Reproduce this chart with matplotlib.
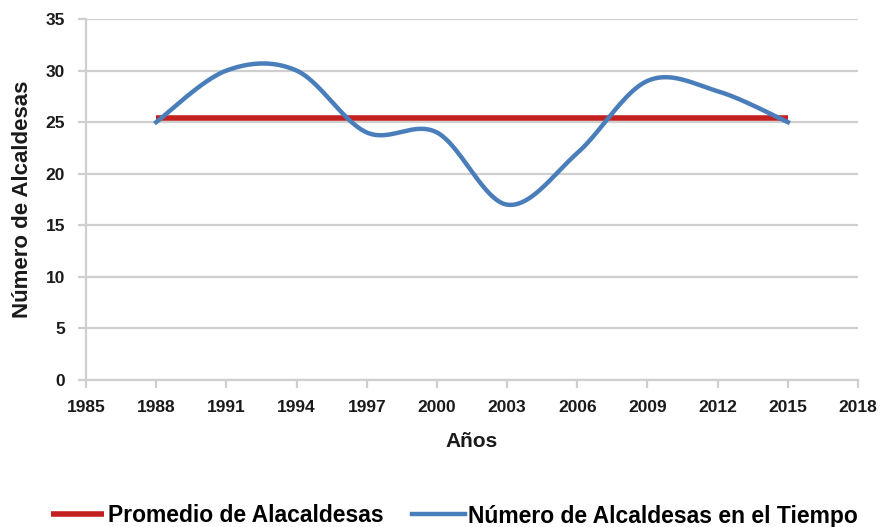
import numpy as np
import matplotlib
matplotlib.use("Agg")
import matplotlib.pyplot as plt

years = [1988, 1991, 1994, 1997, 2000, 2003, 2006, 2009, 2012, 2015]
alcaldesas = [25, 30, 30, 24, 24, 17, 22, 29, 28, 25]
promedio = [25.4] * len(years)
x_ticks = [1985, 1988, 1991, 1994, 1997, 2000, 2003, 2006, 2009, 2012, 2015, 2018]
y_ticks = [0, 5, 10, 15, 20, 25, 30, 35]

plt.rcParams['font.family'] = ['Liberation Sans', 'DejaVu Sans']


def smooth(xs, ys, n=40):
    # Excel-like smoothed line: cubic Bezier with Catmull-Rom control points
    xs = np.asarray(xs, float)
    ys = np.asarray(ys, float)
    P = np.column_stack([xs, ys])
    out = []
    for i in range(len(P) - 1):
        p0 = P[i - 1] if i > 0 else P[i]
        p1, p2 = P[i], P[i + 1]
        p3 = P[i + 2] if i + 2 < len(P) else P[i + 1]
        c1 = p1 + (p2 - p0) / 6.0
        c2 = p2 - (p3 - p1) / 6.0
        t = np.linspace(0, 1, n)[:, None]
        seg = ((1 - t) ** 3) * p1 + 3 * ((1 - t) ** 2) * t * c1 + 3 * (1 - t) * t ** 2 * c2 + t ** 3 * p2
        out.append(seg if i == 0 else seg[1:])
    seg = np.vstack(out)
    return seg[:, 0], seg[:, 1]


fig = plt.figure(figsize=(8.81, 5.27), dpi=100)
ax = fig.add_axes([86 / 881, 1 - 380 / 527, (858 - 86) / 881, (380 - 19) / 527])

grid_c = '#cfcfcf'
ax.set_xlim(1985, 2018)
ax.set_ylim(0, 35)
ax.set_xticks(x_ticks)
ax.set_yticks(y_ticks)
ax.yaxis.grid(True, color=grid_c, linewidth=1.6)
ax.set_axisbelow(True)
for s in ['top', 'right']:
    ax.spines[s].set_visible(False)
for s in ['left', 'bottom']:
    ax.spines[s].set_color(grid_c)
    ax.spines[s].set_linewidth(1.6)
ax.tick_params(axis='both', colors=grid_c, length=6, width=1.6,
               labelcolor='#1a1a1a', labelsize=12.5)
for lab in ax.get_xticklabels() + ax.get_yticklabels():
    lab.set_fontweight('bold')
ax.tick_params(axis='x', pad=8.5)
ax.tick_params(axis='y', pad=9)

red_line, = ax.plot(years, promedio, color='#c3211f', linewidth=4, solid_capstyle='butt',
                    label='Promedio de Alacaldesas')
sx, sy = smooth(years, alcaldesas)
blue_line, = ax.plot(sx, sy, color='#4a7ebb', linewidth=3.2,
                     label='Número de Alcaldesas en el Tiempo')

ax.set_xlabel('Años', fontsize=15, fontweight='bold', color='#1a1a1a', labelpad=12)
ax.set_ylabel('Número de Alcaldesas', fontsize=16, fontweight='bold', color='#1a1a1a', labelpad=9)

fig.legend(handles=[red_line, blue_line], loc='center', bbox_to_anchor=(0.516, 1 - 516 / 527),
           ncol=2, frameon=False, handlelength=2.3, columnspacing=1.25,
           handletextpad=0.15, prop={'weight': 'bold', 'size': 16.5})

fig.savefig('out.png', dpi=100, facecolor='white')
